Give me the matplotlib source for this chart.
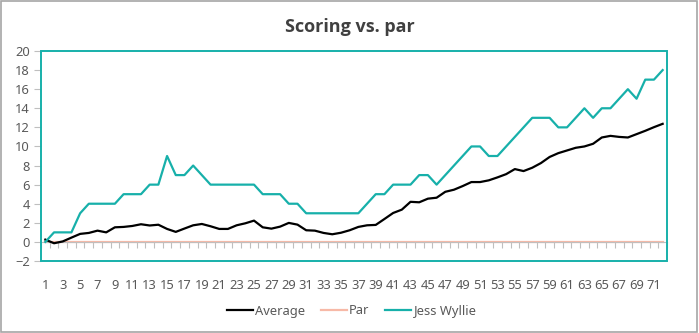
import matplotlib
matplotlib.use("Agg")
import matplotlib.pyplot as plt
from matplotlib.patches import Rectangle
from matplotlib.ticker import MultipleLocator, FixedLocator

holes = list(range(1, 73))
average = [0.24, -0.14, 0.05, 0.45, 0.84, 0.94, 1.18, 1.0, 1.53, 1.57, 1.67, 1.85,
           1.72, 1.8, 1.36, 1.05, 1.4, 1.74, 1.88, 1.64, 1.36, 1.36, 1.74, 1.95,
           2.23, 1.53, 1.39, 1.6, 1.99, 1.81, 1.22, 1.18, 0.94, 0.8, 0.96, 1.22,
           1.57, 1.74, 1.78, 2.4, 3.03, 3.38, 4.2, 4.15, 4.53, 4.63, 5.25, 5.47,
           5.85, 6.27, 6.27, 6.45, 6.76, 7.1, 7.63, 7.42, 7.77, 8.26, 8.9, 9.3,
           9.58, 9.86, 10.0, 10.28, 10.94, 11.11, 11.0, 10.94, 11.29, 11.64, 12.02, 12.37]
par = [0] * 72
jess = [0, 1, 1, 1, 3, 4, 4, 4, 4, 5, 5, 5,
        6, 6, 9, 7, 7, 8, 7, 6, 6, 6, 6, 6,
        6, 5, 5, 5, 4, 4, 3, 3, 3, 3, 3, 3,
        3, 4, 5, 5, 6, 6, 6, 7, 7, 6, 7, 8,
        9, 10, 10, 9, 9, 10, 11, 12, 13, 13, 13, 12,
        12, 13, 14, 13, 14, 14, 15, 16, 15, 17, 17, 18]
x_labels = [str(h) for h in holes[::2]]

teal = "#17b0aa"
salmon = "#f7b9a7"
txt = "#595959"
grid_c = "#bfbfbf"

plt.rcParams['font.family'] = ['Noto Sans', 'DejaVu Sans']

fig = plt.figure(figsize=(6.99, 3.33), dpi=100)
fig.patches.append(Rectangle((0.001, 0.003), 0.996, 0.994, transform=fig.transFigure,
                             fill=False, edgecolor="#a6a6a6", linewidth=1.2))
ax = fig.add_axes([41/699, 1-261/333, 626/699, 210/333])

ax.plot(holes, par, color=salmon, lw=1.6, label="Par", zorder=2)
ax.plot(holes, average, color="black", lw=1.6, label="Average", zorder=3)
ax.plot(holes, jess, color=teal, lw=1.6, label="Jess Wyllie", zorder=4)

ax.set_xlim(0.5, 72.5)
ax.set_ylim(-2, 20)
ax.yaxis.set_major_locator(MultipleLocator(2))

for s in ["top", "right", "left"]:
    ax.spines[s].set_visible(False)
ax.spines["bottom"].set_position(("data", 0))
ax.spines["bottom"].set_color(grid_c)
ax.add_patch(Rectangle((0, 0), 1, 1, transform=ax.transAxes, fill=False,
                       edgecolor=teal, linewidth=1.4, clip_on=False, zorder=5))

ax.xaxis.set_major_locator(FixedLocator([]))
ax.xaxis.set_minor_locator(MultipleLocator(1, offset=0.5))
ax.tick_params(axis="x", which="minor", direction="out", length=4, color=grid_c, width=0.8)
ax.tick_params(axis="y", which="major", direction="out", length=5, color=grid_c,
               labelcolor=txt, labelsize=9.3, pad=3)

sec = ax.secondary_xaxis("bottom")
sec.set_xticks(holes[::2])
sec.set_xticklabels(x_labels)
sec.spines["bottom"].set_visible(False)
sec.tick_params(length=0, labelcolor=txt, labelsize=9.3, pad=13)

fig.text(0.5, 1-27/333, "Scoring vs. par", ha="center", va="center",
         fontsize=13, fontweight="bold", color="#404040",
         family=["Open Sans", "DejaVu Sans"])

handles, labels = ax.get_legend_handles_labels()
order = [1, 0, 2]
leg = fig.legend([handles[i] for i in order], [labels[i] for i in order],
                 loc="center", bbox_to_anchor=(0.503, 1-311/333), ncol=3, frameon=False,
                 fontsize=9.3, handlelength=2.0, columnspacing=1.2, handletextpad=0.2,
                 labelcolor=txt)

fig.savefig("out.png", dpi=100)
